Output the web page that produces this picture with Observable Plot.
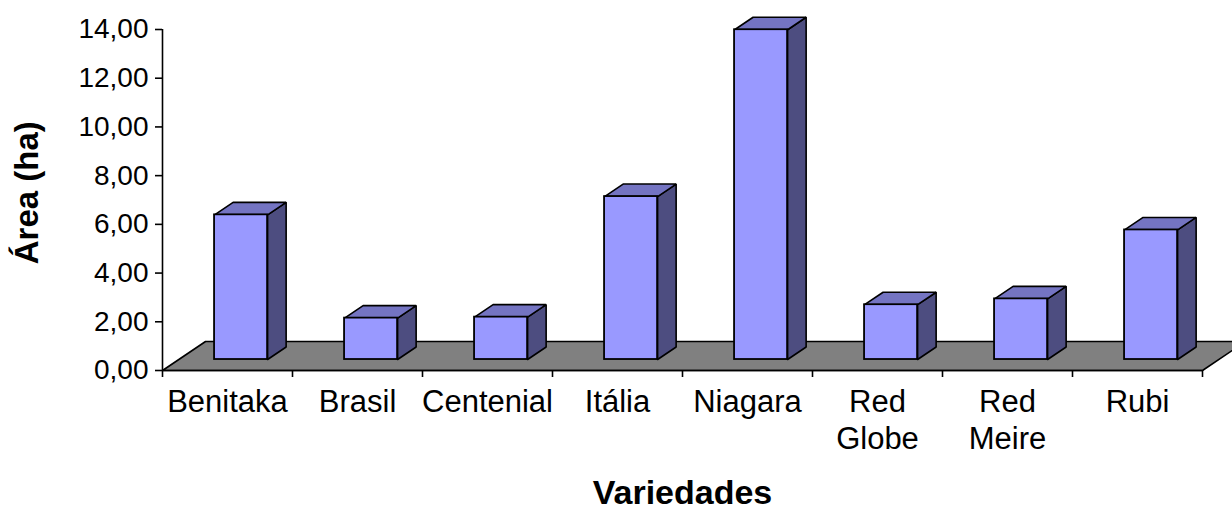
<!DOCTYPE html>
<html>
<head>
<meta charset="utf-8">
<script src="https://cdn.jsdelivr.net/npm/d3@7"></script>
<script src="https://cdn.jsdelivr.net/npm/@observablehq/plot@0.6"></script>
<style>
  html, body { margin: 0; padding: 0; background: #fff; overflow: hidden; }
  #chart { width: 1232px; height: 510px; }
</style>
</head>
<body>
<div id="chart"></div>
<script>
// ---- data ----
const categories = ["Benitaka", "Brasil", "Centenial", "Itália", "Niagara", "Red\nGlobe", "Red\nMeire", "Rubi"];
const areas = [5.94, 1.70, 1.74, 6.69, 13.54, 2.25, 2.49, 5.32];
const yTicks = [0, 2, 4, 6, 8, 10, 12, 14];
const yTitle = "Área (ha)";
const xTitle = "Variedades";

// ---- 3D geometry (data units) ----
const n = categories.length;
const DX = 0.331, DY = 1.19;     // floor depth vector
const F0 = 0.379, F1 = 0.81;     // bar front/back depth fraction
const BL = 0.275, BR = 0.683;    // bar left/right inside a slot

const floorPoly = [[0, 0], [n, 0], [n + DX, DY], [DX, DY], [0, 0]].map(([x, y]) => ({id: "floor", x, y}));

const fronts = areas.map((v, i) => ({
  x1: i + BL + F0 * DX, x2: i + BR + F0 * DX, y1: F0 * DY, y2: v + F0 * DY
}));
const sides = areas.flatMap((v, i) => {
  const p = [
    [i + BR + F0 * DX, F0 * DY],
    [i + BR + F1 * DX, F1 * DY],
    [i + BR + F1 * DX, v + F1 * DY],
    [i + BR + F0 * DX, v + F0 * DY]
  ];
  p.push(p[0]);
  return p.map(([x, y]) => ({id: "s" + i, x, y}));
});
const tops = areas.flatMap((v, i) => {
  const p = [
    [i + BL + F0 * DX, v + F0 * DY],
    [i + BR + F0 * DX, v + F0 * DY],
    [i + BR + F1 * DX, v + F1 * DY],
    [i + BL + F1 * DX, v + F1 * DY]
  ];
  p.push(p[0]);
  return p.map(([x, y]) => ({id: "t" + i, x, y}));
});

const font = "'Liberation Sans', Arial, sans-serif";

const chart = Plot.plot({
  width: 1232,
  height: 510,
  marginLeft: 162,
  marginRight: 30,
  marginTop: 29,
  marginBottom: 140,
  style: {fontFamily: font, background: "white", color: "black"},
  x: {type: "linear", domain: [0, n], axis: null},
  y: {type: "linear", domain: [0, 14], axis: null},
  marks: [
    // floor
    Plot.line(floorPoly, {x: "x", y: "y", z: "id", fill: "#808080", stroke: "black", strokeWidth: 1.6, strokeLinejoin: "miter"}),
    // bars
    Plot.line(sides, {x: "x", y: "y", z: "id", fill: "#4d4d80", stroke: "black", strokeWidth: 1.6, strokeLinejoin: "miter"}),
    Plot.line(tops, {x: "x", y: "y", z: "id", fill: "#7474c2", stroke: "black", strokeWidth: 1.6, strokeLinejoin: "miter"}),
    Plot.rect(fronts, {x1: "x1", x2: "x2", y1: "y1", y2: "y2", fill: "#9999ff", stroke: "black", strokeWidth: 1.8}),
    // y axis
    Plot.ruleX([0], {y1: 0, y2: 14, stroke: "black", strokeWidth: 1.6}),
    Plot.axisY(yTicks, {tickSize: 7, tickPadding: 7, strokeWidth: 1.6, tickFormat: d => d.toFixed(2).replace(".", ","), fontSize: 28, fill: "black", label: null}),
    // x axis
    Plot.ruleY([0], {x1: 0, x2: n, stroke: "black", strokeWidth: 1.6}),
    Plot.axisX(d3.range(n + 1), {tickSize: 7, strokeWidth: 1.6, tickFormat: () => "", label: null}),
    Plot.text(categories, {x: (d, i) => i + 0.5, y: () => 0, text: d => d, lineAnchor: "top", dy: 16, fontSize: 31, lineHeight: 1.18, fill: "black"}),
    // titles
    Plot.text([yTitle], {x: () => -1.04, y: () => 7.3, rotate: -90, textAnchor: "middle", lineAnchor: "middle", fontSize: 33, fontWeight: "bold", fill: "black"}),
    Plot.text([xTitle], {frameAnchor: "bottom", dy: 133, fontSize: 34, fontWeight: "bold", fill: "black"})
  ]
});
document.getElementById("chart").appendChild(chart);
</script>
</body>
</html>
